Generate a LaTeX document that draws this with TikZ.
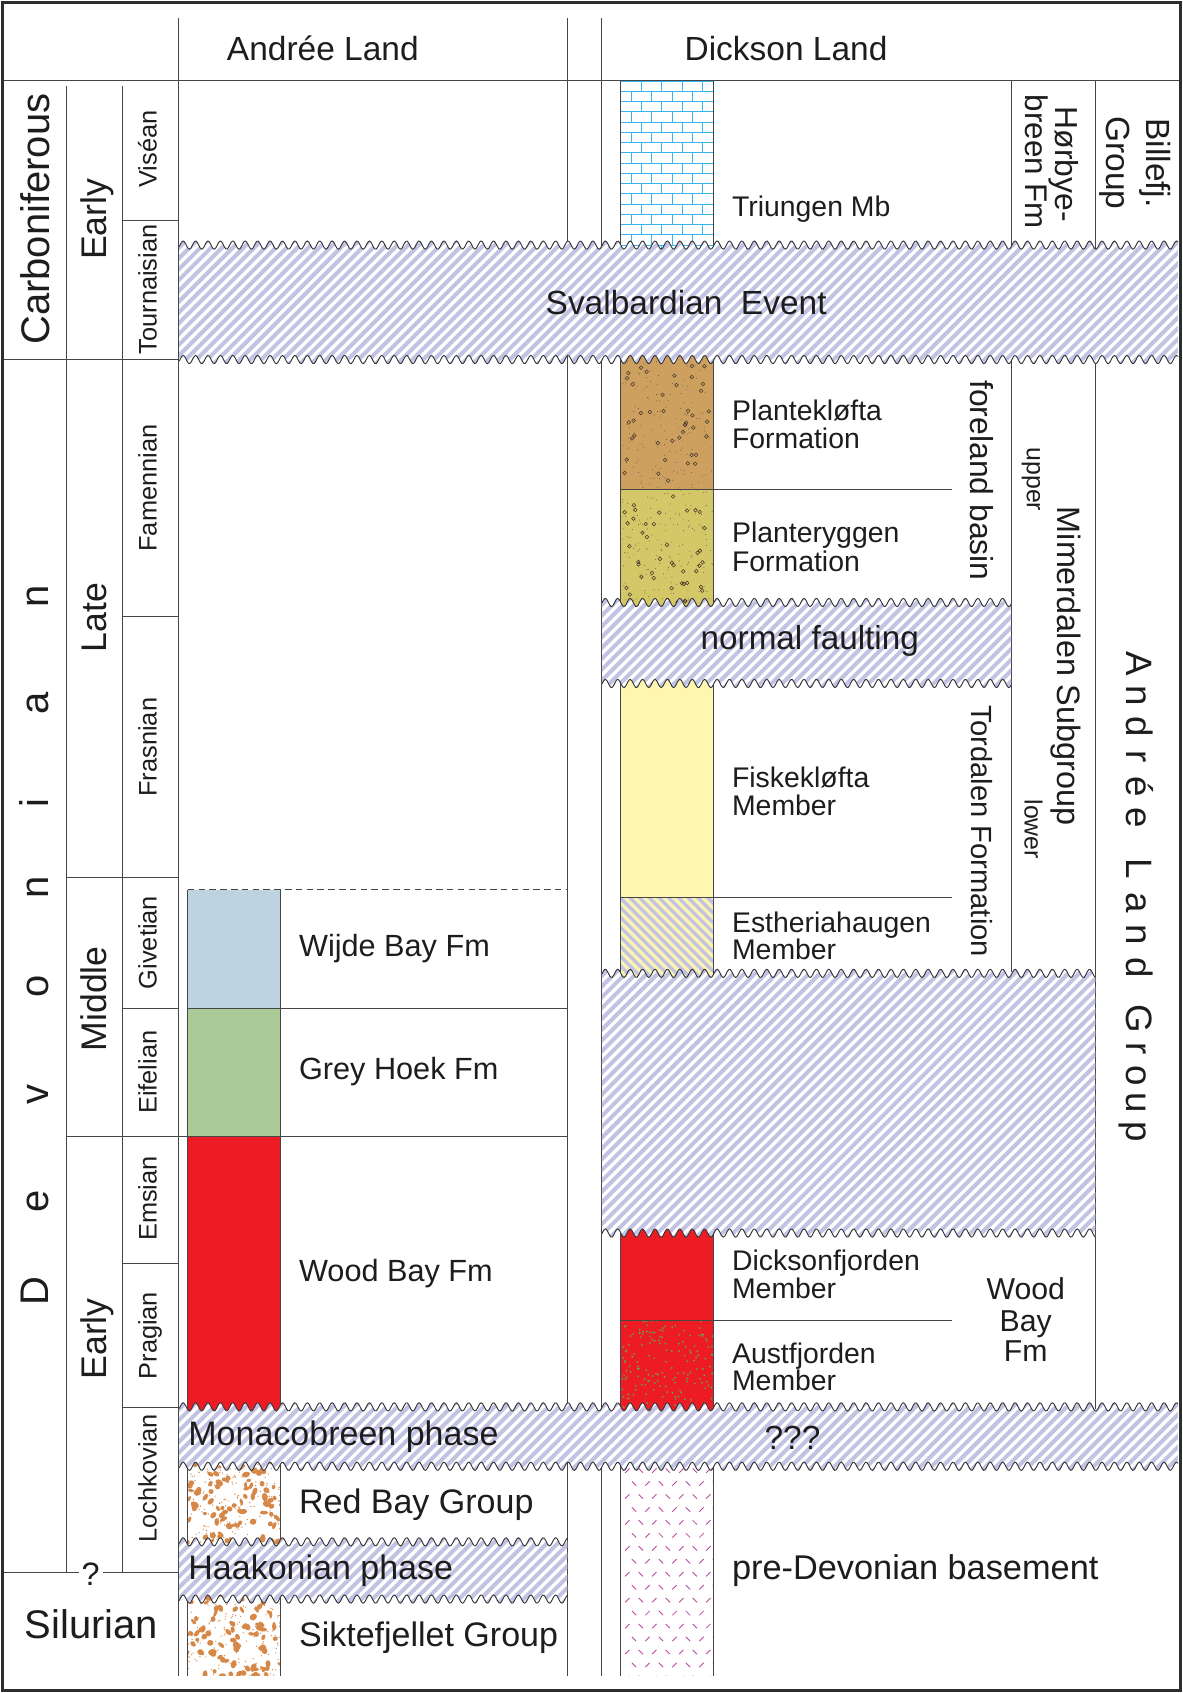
\documentclass[tikz,border=0pt]{standalone}
\usepackage{fontspec}
\setmainfont{Liberation Sans}
\definecolor{linec}{RGB}{70,70,72}
\definecolor{bordc}{RGB}{45,45,45}
\definecolor{wavec}{RGB}{50,50,55}
\definecolor{lavc}{RGB}{194,194,226}
\definecolor{txt}{RGB}{30,28,30}
\definecolor{wijde}{RGB}{189,211,224}
\definecolor{greyhoek}{RGB}{170,203,152}
\definecolor{redc}{RGB}{237,28,36}
\definecolor{fisk}{RGB}{255,246,178}
\definecolor{esth}{RGB}{250,243,178}
\definecolor{plk}{RGB}{205,160,96}
\definecolor{plr}{RGB}{212,199,104}
\definecolor{dotc}{RGB}{105,88,60}
\definecolor{circc}{RGB}{70,58,42}
\definecolor{cyanl}{RGB}{55,180,235}
\definecolor{orc}{RGB}{214,136,72}
\definecolor{grdot}{RGB}{95,170,65}
\definecolor{magc}{RGB}{190,70,160}
\newcommand\fs[1]{\fontsize{#1}{#1}\selectfont}
% wavy hatched hiatus band: name, x1, y1, x2, y2
\newcommand\hband[5]{%
  \pgfmathtruncatemacro\nsamp{(#4-#2)/1.2+2}%
  \begin{scope}
    \clip plot[domain=#2:#4,samples=\nsamp] (\x,{#3+3.8*sin(31.3043*mod(\x,11.5))})
      -- plot[domain=#2:#4,samples=\nsamp] ({#2+#4-\x},{#5+3.8*sin(31.3043*mod(#2+#4-\x,11.5))}) -- cycle;
    \fill[white] (#2,#3-8) rectangle (#4,#5+8);
    \pgfmathsetmacro\hh{#5-#3+16}%
    \pgfmathtruncatemacro\nn{(#4-#2+\hh)/10+1}%
    \foreach \k in {0,...,\nn}{\draw[lavc,line width=3.7pt] ({#2-\hh+10*\k},{#5+8}) -- ++(\hh,-\hh);}
  \end{scope}
  \draw[wavec,line width=0.85pt] plot[domain=#2:#4,samples=\nsamp] (\x,{#3+3.8*sin(31.3043*mod(\x,11.5))});
  \draw[wavec,line width=0.85pt] plot[domain=#2:#4,samples=\nsamp] (\x,{#5+3.8*sin(31.3043*mod(\x,11.5))});
  \coordinate (#1) at ({(#2+#4)/2},{(#3+#5)/2});
}
% conglomerate pattern: y1, y2, seed
\newcommand\congl[3]{%
  \begin{scope}
    \clip (174,#1) rectangle (260,#2);
    \fill[white] (174,#1) rectangle (260,#2);
    \pgfmathsetseed{#3}
    \foreach \i in {1,...,95}{%
      \pgfmathsetmacro\px{172+90*rnd}\pgfmathsetmacro\py{#1-2+(#2-#1+4)*rnd}%
      \pgfmathsetmacro\ra{1.8+2.4*rnd}\pgfmathsetmacro\rb{1.4+1.6*rnd}\pgfmathsetmacro\an{180*rnd}%
      \fill[orc,rotate around={\an:(\px,\py)}] (\px,\py) ellipse [x radius=\ra pt, y radius=\rb pt];}
    \foreach \i in {1,...,170}{%
      \pgfmathsetmacro\px{172+90*rnd}\pgfmathsetmacro\py{#1-2+(#2-#1+4)*rnd}%
      \fill[orc] (\px,\py) circle (0.65pt);}
  \end{scope}}
% pebbly sandstone: y1, y2, fill colour, seed
\newcommand\pebbly[4]{%
  \begin{scope}
    \clip (575,#1) rectangle (661,#2);
    \fill[#3] (575,#1) rectangle (661,#2);
    \pgfmathsetseed{#4}
    \foreach \i in {1,...,150}{%
      \pgfmathsetmacro\px{576+84*rnd}\pgfmathsetmacro\py{#1+(#2-#1)*rnd}%
      \fill[dotc] (\px,\py) circle (0.45pt);}
    \foreach \i in {1,...,42}{%
      \pgfmathsetmacro\px{578+80*rnd}\pgfmathsetmacro\py{#1+3+(#2-#1-6)*rnd}%
      \draw[circc,line width=0.5pt] (\px,\py) circle (1.7pt);}
  \end{scope}}
\begin{document}
\begin{tikzpicture}[x=1pt,y=-1pt,
  grid/.style={linec,line width=0.9pt},
  lab/.style={inner sep=0pt,outer sep=0pt,text=txt},
  rup/.style={lab,rotate=90,anchor=base},
  rdn/.style={lab,rotate=-90,anchor=base},
  hl/.style={lab,anchor=base west},
  hc/.style={lab,anchor=base}]
\useasboundingbox (0,0) rectangle (1095,1568);
\fill[white] (0,0) rectangle (1095,1568);

% ---------- lithology boxes ----------
% Andree Land
\fill[wijde] (174,824) rectangle (260,934);
\fill[greyhoek] (174,934) rectangle (260,1053);
\fill[redc] (174,1053) rectangle (260,1309);
\congl{1354}{1433}{21}
\congl{1477}{1552}{37}
% Dickson Land: Triungen limestone
\begin{scope}
  \clip (575,75) rectangle (661,231);
  \foreach \r in {0,...,16}{%
    \draw[cyanl,line width=0.8pt] (575,{75+9.5*\r}) -- (661,{75+9.5*\r});
    \foreach \c in {0,...,5}{\draw[cyanl,line width=0.8pt] ({575+19*\c+mod(\r,2)*9.5},{75+9.5*\r}) -- ++(0,9.5);}}
\end{scope}
\pebbly{329}{453}{plk}{5}
\pebbly{453}{561}{plr}{9}
\fill[fisk] (575,629) rectangle (661,831);
\begin{scope}
  \clip (575,831) rectangle (661,905);
  \fill[esth] (575,831) rectangle (661,905);
  \foreach \k in {0,...,22}{\draw[lavc,line width=3pt] ({575-90+9*\k},823) -- ++(95,95);}
\end{scope}
\fill[redc] (575,1138) rectangle (661,1223);
\begin{scope}
  \clip (575,1223) rectangle (661,1309);
  \fill[redc] (575,1223) rectangle (661,1309);
  \pgfmathsetseed{13}
  \foreach \i in {1,...,170}{%
    \pgfmathsetmacro\px{576+84*rnd}\pgfmathsetmacro\py{1223+86*rnd}%
    \fill[grdot] (\px,\py) circle (0.9pt);}
\end{scope}
\begin{scope}
  \clip (575,1354) rectangle (661,1552);
  \foreach \r in {0,...,16}{\foreach \c in {0,...,6}{%
    \pgfmathsetmacro\px{581+12.5*\c+mod(\r,2)*6.2}%
    \pgfmathsetmacro\py{1362+12*\r}%
    \pgfmathsetmacro\sg{2*mod(\r+\c,2)-1}%
    \draw[magc,line width=0.8pt] ({\px-2},{\py-2*\sg}) -- ({\px+2},{\py+2*\sg});}}
\end{scope}

% ---------- grid lines ----------
\draw[grid] (2,75) -- (1093,75);
\draw[grid] (62,80) -- (62,1456);
\draw[grid] (113,80) -- (113,1456);
\draw[grid] (165,17) -- (165,1552);
\draw[grid] (526,17) -- (526,1552);
\draw[grid] (557,17) -- (557,1552);
\draw[grid] (937,75) -- (937,900);
\draw[grid] (1015,75) -- (1015,1305);
\draw[grid] (575,75) -- (575,1552);
\draw[grid] (661,75) -- (661,1552);
\draw[grid] (174,824) -- (174,1552);
\draw[grid] (260,824) -- (260,1552);
\draw[grid] (2,333) -- (165,333);
\draw[grid] (113,204) -- (165,204);
\draw[grid] (113,571) -- (165,571);
\draw[grid] (62,813) -- (165,813);
\draw[grid] (113,934) -- (165,934);
\draw[grid] (174,934) -- (526,934);
\draw[grid] (62,1053) -- (526,1053);
\draw[grid] (113,1170) -- (165,1170);
\draw[grid] (113,1304) -- (165,1304);
\draw[grid] (2,1456) -- (73,1456);
\draw[grid] (95,1456) -- (165,1456);
\draw[grid,dashed,dash pattern=on 6pt off 4pt] (174,824) -- (526,824);
\draw[grid] (575,453) -- (882,453);
\draw[grid] (575,831) -- (882,831);
\draw[grid] (575,1223) -- (882,1223);

% ---------- hiatus bands ----------
\hband{bSval}{166}{227}{1091}{333}
\hband{bNorm}{557.5}{558}{936.5}{633}
\hband{bBig}{557.5}{901.5}{1014.5}{1142}
\hband{bMona}{166}{1303}{1091}{1358}
\hband{bHaak}{166}{1428}{525.5}{1481}

% ---------- outer frame ----------
\draw[bordc,line width=2.6pt] (2,2) rectangle (1093,1566);

% ---------- headers ----------
\node[hc,font=\fs{31}] (hAL) at (299,56.4) {Andrée Land};
\node[hc,font=\fs{31}] (hDL) at (728,56.4) {Dickson Land};

% ---------- time scale ----------
\node[rup,font=\fs{37}] (carb) at (46,203) {Carboniferous};
\foreach \l/\yy [count=\i] in {D/1196,e/1113,v/1014,o/914,n/822,i/744,a/651,n/552}
  \node[rup,font=\fs{37}] (dev\i) at (45,\yy) {\l};
\node[hc,font=\fs{37}] (silur) at (84.5,1517.6) {Silurian};
\node[hc,font=\fs{30}] (qmark) at (84,1468) {?};
\node[rup,font=\fs{33}] (epC) at (99,203) {Early};
\node[rup,font=\fs{33}] (epL) at (99,572) {Late};
\node[rup,font=\fs{33}] (epM) at (99,925) {Middle};
\node[rup,font=\fs{33}] (epE) at (99,1240) {Early};
\node[rup,font=\fs{23.5}] (aVis) at (145,138) {Viséan};
\node[rup,font=\fs{23.5}] (aTou) at (145,268) {Tournaisian};
\node[rup,font=\fs{23.5}] (aFam) at (145,452) {Famennian};
\node[rup,font=\fs{23.5}] (aFra) at (145,692) {Frasnian};
\node[rup,font=\fs{23.5}] (aGiv) at (145,873) {Givetian};
\node[rup,font=\fs{23.5}] (aEif) at (145,993) {Eifelian};
\node[rup,font=\fs{23.5}] (aEms) at (145,1110) {Emsian};
\node[rup,font=\fs{23.5}] (aPra) at (145,1237) {Pragian};
\node[rup,font=\fs{23.5}] (aLoc) at (145,1369) {Lochkovian};

% ---------- Andree Land texts ----------
\node[hl,font=\fs{28.4}] (tWij) at (277,886.2) {Wijde Bay Fm};
\node[hl,font=\fs{28.4}] (tGre) at (277,999.8) {Grey Hoek Fm};
\node[hl,font=\fs{28.4}] (tWoo) at (277,1187.3) {Wood Bay Fm};
\node[hl,font=\fs{31.5}] (tMon) at (174.5,1338.6) {Monacobreen phase};
\node[hl,font=\fs{31.5}] (tRed) at (277,1401.9) {Red Bay Group};
\node[hl,font=\fs{31.5}] (tHaa) at (174.5,1463) {Haakonian phase};
\node[hl,font=\fs{31.5}] (tSik) at (277,1524.8) {Siktefjellet Group};

% ---------- band texts ----------
\node[hc,font=\fs{31}] (tSva) at (635.5,291) {Svalbardian\hspace{0.556em}Event};
\node[hc,font=\fs{31}] (tQQQ) at (734,1342.6) {???};
\node[hc,font=\fs{30.8}] (tNor) at (750,602) {normal faulting};

% ---------- Dickson Land texts ----------
\node[hl,font=\fs{26.3}] (tTri) at (678,200.8) {Triungen Mb};
\node[hl,font=\fs{26.3}] (tPk1) at (678,389) {Plantekløfta};
\node[hl,font=\fs{26.3}] (tPk2) at (678,415.5) {Formation};
\node[hl,font=\fs{26.3}] (tPr1) at (678,502) {Planteryggen};
\node[hl,font=\fs{26.3}] (tPr2) at (678,529) {Formation};
\node[hl,font=\fs{26.3}] (tFi1) at (678,729) {Fiskekløfta};
\node[hl,font=\fs{26.3}] (tFi2) at (678,755) {Member};
\node[hl,font=\fs{26.3}] (tEs1) at (678,863.5) {Estheriahaugen};
\node[hl,font=\fs{26.3}] (tEs2) at (678,888.5) {Member};
\node[hl,font=\fs{26.3}] (tDi1) at (678,1176.5) {Dicksonfjorden};
\node[hl,font=\fs{26.3}] (tDi2) at (678,1202.7) {Member};
\node[hl,font=\fs{26.3}] (tAu1) at (678,1263) {Austfjorden};
\node[hl,font=\fs{26.3}] (tAu2) at (678,1288) {Member};
\node[hl,font=\fs{31.8}] (tPre) at (678,1462.9) {pre-Devonian basement};
\node[hc,font=\fs{28}] (tWB1) at (950,1204) {Wood};
\node[hc,font=\fs{28}] (tWB2) at (950,1233.6) {Bay};
\node[hc,font=\fs{28}] (tWB3) at (950,1260.5) {Fm};

% ---------- rotated unit names ----------
\node[rdn,font=\fs{29.5}] (tFor) at (899,445) {foreland basin};
\node[rdn,font=\fs{27}] (tTor) at (900,770) {Tordalen Formation};
\node[rdn,font=\fs{23}] (tUpp) at (951,444) {upper};
\node[rdn,font=\fs{23}] (tLow) at (949,768) {lower};
\node[rdn,font=\fs{30}] (tMim) at (979,617) {Mimerdalen Subgroup};
\node[rdn,font=\fs{29.5}] (tHo1) at (978,152) {Hørbye-};
\node[rdn,font=\fs{29}] (tHo2) at (950,150) {breen Fm};
\node[rdn,font=\fs{31}] (tBi1) at (1062,151) {Billefj.};
\node[rdn,font=\fs{31}] (tBi2) at (1025,151) {Group};
\foreach \l/\yy [count=\i] in {A/615,n/644,d/673,r/701,é/729,e/757,L/805,a/836,n/866,d/896,G/944,r/971,o/996,u/1021,p/1048}
  \node[rdn,font=\fs{34}] (alg\i) at (1043,\yy) {\l};
\end{tikzpicture}
\end{document}
